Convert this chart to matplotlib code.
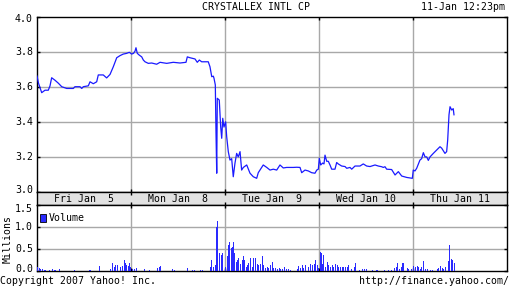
import matplotlib
matplotlib.use("Agg")
import matplotlib.pyplot as plt
from matplotlib.patches import Rectangle
from matplotlib.transforms import offset_copy

# ---- data ----
title = "CRYSTALLEX INTL CP"
stamp = "11-Jan 12:23pm"
day_labels = ["Fri Jan  5", "Mon Jan  8", "Tue Jan  9", "Wed Jan 10", "Thu Jan 11"]
price_ticks = [3.0, 3.2, 3.4, 3.6, 3.8, 4.0]
vol_ticks = [0.0, 0.5, 1.0, 1.5]

# time in trading days since Fri Jan 5 open
price_t = [0.000, 0.016, 0.050, 0.085, 0.120, 0.138, 0.156, 0.191, 0.227, 0.263,
           0.316, 0.386, 0.404, 0.457, 0.476, 0.493, 0.546, 0.564, 0.599, 0.635,
           0.652, 0.705, 0.741, 0.777, 0.812, 0.848, 0.883, 0.918, 0.954, 0.982,
           1.007, 1.027, 1.043, 1.053, 1.067, 1.088, 1.114, 1.131, 1.149, 1.184,
           1.220, 1.273, 1.309, 1.380, 1.450, 1.521, 1.585, 1.599, 1.628, 1.681,
           1.705, 1.727, 1.752, 1.822, 1.840, 1.859, 1.876, 1.883, 1.897, 1.904,
           1.912, 1.918, 1.939, 1.954, 1.965, 1.976, 1.989, 2.007, 2.018, 2.035,
           2.053, 2.071, 2.088, 2.106, 2.124, 2.141, 2.160, 2.177, 2.195, 2.231,
           2.266, 2.301, 2.337, 2.354, 2.372, 2.390, 2.407, 2.444, 2.479, 2.514,
           2.550, 2.585, 2.620, 2.656, 2.727, 2.763, 2.798, 2.816, 2.851, 2.886,
           2.922, 2.957, 2.976, 2.993, 3.003, 3.018, 3.039, 3.053, 3.064, 3.082,
           3.099, 3.117, 3.135, 3.170, 3.188, 3.205, 3.241, 3.277, 3.295, 3.330,
           3.348, 3.383, 3.436, 3.471, 3.507, 3.543, 3.596, 3.631, 3.667, 3.684,
           3.702, 3.720, 3.773, 3.809, 3.844, 3.880, 3.933, 3.993, 4.003, 4.021,
           4.039, 4.074, 4.092, 4.110, 4.128, 4.146, 4.163, 4.181, 4.216, 4.252,
           4.287, 4.305, 4.340, 4.358, 4.369, 4.383, 4.394, 4.412, 4.428, 4.436]
price_v = [3.661, 3.620, 3.566, 3.580, 3.580, 3.604, 3.651, 3.637, 3.620, 3.600,
           3.590, 3.590, 3.600, 3.600, 3.590, 3.600, 3.605, 3.628, 3.617, 3.628,
           3.667, 3.667, 3.650, 3.670, 3.714, 3.765, 3.777, 3.786, 3.790, 3.796,
           3.786, 3.790, 3.803, 3.822, 3.790, 3.780, 3.770, 3.752, 3.742, 3.733,
           3.735, 3.728, 3.739, 3.733, 3.739, 3.735, 3.739, 3.770, 3.765, 3.758,
           3.739, 3.752, 3.742, 3.742, 3.714, 3.657, 3.660, 3.648, 3.610, 3.344,
           3.107, 3.534, 3.524, 3.372, 3.306, 3.420, 3.370, 3.400, 3.315, 3.230,
           3.182, 3.190, 3.087, 3.164, 3.220, 3.200, 3.230, 3.125, 3.140, 3.154,
           3.107, 3.087, 3.078, 3.110, 3.125, 3.140, 3.154, 3.140, 3.125, 3.130,
           3.125, 3.154, 3.137, 3.140, 3.140, 3.141, 3.140, 3.110, 3.125, 3.120,
           3.110, 3.107, 3.125, 3.130, 3.192, 3.154, 3.165, 3.160, 3.210, 3.175,
           3.175, 3.154, 3.130, 3.130, 3.168, 3.160, 3.148, 3.145, 3.135, 3.140,
           3.130, 3.148, 3.148, 3.160, 3.148, 3.145, 3.154, 3.148, 3.144, 3.140,
           3.144, 3.130, 3.128, 3.097, 3.116, 3.091, 3.083, 3.078, 3.125, 3.120,
           3.135, 3.182, 3.190, 3.224, 3.200, 3.200, 3.180, 3.200, 3.220, 3.239,
           3.258, 3.250, 3.220, 3.230, 3.296, 3.440, 3.486, 3.467, 3.475, 3.440]

vol_t = [0.004, 0.018, 0.035, 0.053, 0.071, 0.089, 0.124, 0.160, 0.177, 0.195,
         0.230, 0.390, 0.550, 0.567, 0.656, 0.663, 0.780, 0.798, 0.816, 0.833,
         0.851, 0.887, 0.904, 0.922, 0.933, 0.950, 0.965, 0.975, 0.993,
         1.011, 1.028, 1.053, 1.135, 1.188, 1.277, 1.294, 1.312, 1.436, 1.454,
         1.596, 1.649, 1.667, 1.734, 1.752, 1.840, 1.851, 1.876, 1.894, 1.904,
         1.915, 1.939, 1.954, 1.971,
         2.000, 2.018, 2.029, 2.046, 2.061, 2.071, 2.089, 2.099, 2.114, 2.124,
         2.142, 2.160, 2.177, 2.195, 2.205, 2.220, 2.237, 2.248, 2.266, 2.284,
         2.301, 2.322, 2.337, 2.354, 2.372, 2.390, 2.408, 2.426, 2.443, 2.461,
         2.479, 2.497, 2.514, 2.532, 2.557, 2.571, 2.585, 2.603, 2.631, 2.649,
         2.674, 2.691, 2.763, 2.780, 2.798, 2.816, 2.833, 2.851, 2.886, 2.904,
         2.922, 2.947, 2.957, 2.976, 2.993,
         3.011, 3.018, 3.032, 3.046, 3.064, 3.082, 3.099, 3.117, 3.135, 3.152,
         3.170, 3.188, 3.206, 3.223, 3.241, 3.259, 3.277, 3.294, 3.312, 3.340,
         3.376, 3.386, 3.426, 3.461, 3.482, 3.497, 3.560, 3.603, 3.621, 3.695,
         3.738, 3.766, 3.801, 3.816, 3.833, 3.851, 3.869, 3.880, 3.897, 3.933,
         3.950, 3.975, 3.996,
         4.021, 4.039, 4.057, 4.074, 4.089, 4.110, 4.128, 4.145, 4.181, 4.199,
         4.252, 4.269, 4.287, 4.305, 4.322, 4.340, 4.376, 4.386, 4.404, 4.418,
         4.433]
vol_m = [0.10, 0.06, 0.04, 0.04, 0.03, 0.03, 0.03, 0.05, 0.03, 0.03,
         0.05, 0.03, 0.03, 0.03, 0.05, 0.115, 0.05, 0.18, 0.10, 0.13,
         0.13, 0.08, 0.12, 0.25, 0.18, 0.13, 0.12, 0.18, 0.08,
         0.04, 0.04, 0.06, 0.04, 0.03, 0.06, 0.08, 0.12, 0.04, 0.03,
         0.06, 0.03, 0.03, 0.02, 0.02, 0.10, 0.25, 0.08, 0.14, 1.00,
         1.14, 0.40, 0.36, 0.40,
         0.08, 0.33, 0.59, 0.67, 0.53, 0.55, 0.67, 0.40, 0.21, 0.26,
         0.30, 0.17, 0.25, 0.33, 0.25, 0.10, 0.14, 0.19, 0.30, 0.10,
         0.30, 0.30, 0.17, 0.14, 0.15, 0.33, 0.14, 0.06, 0.10, 0.06,
         0.14, 0.21, 0.06, 0.06, 0.05, 0.06, 0.04, 0.05, 0.10, 0.05,
         0.04, 0.03, 0.04, 0.12, 0.07, 0.14, 0.07, 0.14, 0.10, 0.17,
         0.14, 0.17, 0.25, 0.14, 0.06,
         0.44, 0.40, 0.17, 0.36, 0.10, 0.21, 0.14, 0.10, 0.14, 0.10,
         0.17, 0.14, 0.10, 0.08, 0.08, 0.08, 0.08, 0.10, 0.14, 0.04,
         0.10, 0.18, 0.02, 0.04, 0.04, 0.04, 0.02, 0.02, 0.02, 0.02,
         0.02, 0.02, 0.06, 0.10, 0.18, 0.04, 0.10, 0.18, 0.19, 0.06,
         0.04, 0.04, 0.12,
         0.10, 0.12, 0.08, 0.04, 0.10, 0.22, 0.04, 0.04, 0.02, 0.02,
         0.04, 0.06, 0.12, 0.06, 0.04, 0.10, 0.22, 0.60, 0.27, 0.25,
         0.19]

# ---- style ----
FONT = "DejaVu Sans Mono"
FS = 7.1
GRID = "#a8a8a8"
LINE = "#1a1aff"
BAR = "#2a2aff"
W, H = 512, 288

def fx(px):
    return px / W

def fy(py):
    return 1 - py / H

fig = plt.figure(figsize=(5.12, 2.88), dpi=100)
fig.patch.set_facecolor("white")

left, right = 37, 507
ax = fig.add_axes([fx(left), fy(192), (right - left) / W, (192 - 16.5) / H])
band = fig.add_axes([fx(left), fy(205), (right - left) / W, 13 / H])
vax = fig.add_axes([fx(left), fy(271), (right - left) / W, 66 / H])

for a in (ax, band, vax):
    a.set_xlim(0, 5)
    for s in a.spines.values():
        s.set_color("black")
        s.set_linewidth(1.0)


def ylabels(a, ticks, first_shift, last_shift):
    """Draw y tick labels; end labels nudged inside like the original."""
    tr = a.get_yaxis_transform()
    n = len(ticks)
    for i, v in enumerate(ticks):
        dy = 0
        if i == 0:
            dy = first_shift
        elif i == n - 1:
            dy = last_shift
        t = offset_copy(tr, fig=fig, x=-4, y=dy, units="dots")
        a.text(0, v, f"{v:.1f}", transform=t, ha="right", va="center",
               fontfamily=FONT, fontsize=FS)


# price panel
ax.set_ylim(3.0, 4.0)
for yv in price_ticks[1:-1]:
    ax.axhline(yv, color=GRID, lw=1.0, zorder=1)
for d in range(1, 5):
    ax.axvline(d, color=GRID, lw=1.0, zorder=1)
ax.plot(price_t, price_v, color=LINE, lw=0.9, zorder=3)
ax.set_yticks(price_ticks)
ax.set_yticklabels([])
ylabels(ax, price_ticks, 2, -3)
ax.set_xticks([1, 2, 3, 4])
ax.set_xticklabels([])
ax.tick_params(axis="x", direction="in", length=2.5, width=1, top=True, bottom=True)
ax.tick_params(axis="y", direction="in", length=2.5, width=1, left=True, right=True)

# band
band.set_facecolor("#e2e2e2")
band.set_ylim(0, 1)
band.set_xticks([1, 2, 3, 4])
band.set_xticklabels([])
band.set_yticks([])
band.tick_params(axis="x", direction="in", length=2.5, width=1, top=True, bottom=True)
for i, lab in enumerate(day_labels):
    band.text(i + 0.5, 0.45, lab, ha="center", va="center", fontfamily=FONT, fontsize=FS)

# volume panel
vax.set_ylim(0, 1.5)
for yv in vol_ticks[1:-1]:
    vax.axhline(yv, color=GRID, lw=1.0, zorder=1)
for d in range(1, 5):
    vax.axvline(d, color=GRID, lw=1.0, zorder=1)
vax.bar(vol_t, vol_m, width=0.011, color=BAR, align="edge", zorder=3, linewidth=0)
vax.set_yticks(vol_ticks)
vax.set_yticklabels([])
ylabels(vax, vol_ticks, 2.5, -4.5)
vax.set_xticks([1, 2, 3, 4])
vax.set_xticklabels([])
vax.tick_params(axis="x", direction="in", length=2.5, width=1, top=True, bottom=True)
vax.tick_params(axis="y", direction="in", length=2.5, width=1, left=True, right=True)
fig.text(fx(8), fy(239), "Millions", rotation=90, ha="center", va="center",
         fontfamily=FONT, fontsize=FS)

# legend
vax.add_patch(Rectangle((0.035, 1.12), 0.06, 0.17, facecolor=BAR, edgecolor="black",
                        lw=0.6, zorder=5, clip_on=False))
vax.text(0.12, 1.2, "Volume", ha="left", va="center", fontfamily=FONT, fontsize=FS, zorder=5)

# header/footer text
fig.text(fx(256), fy(7.5), title, ha="center", va="center", fontfamily=FONT, fontsize=FS)
fig.text(fx(505), fy(7.5), stamp, ha="right", va="center", fontfamily=FONT, fontsize=FS)
fig.text(fx(0.5), fy(280.5), "Copyright 2007 Yahoo! Inc.", ha="left", va="center",
         fontfamily=FONT, fontsize=FS)
fig.text(fx(509), fy(280.5), "http://finance.yahoo.com/", ha="right", va="center",
         fontfamily=FONT, fontsize=FS)

fig.savefig("out.png", dpi=100, facecolor="white")
